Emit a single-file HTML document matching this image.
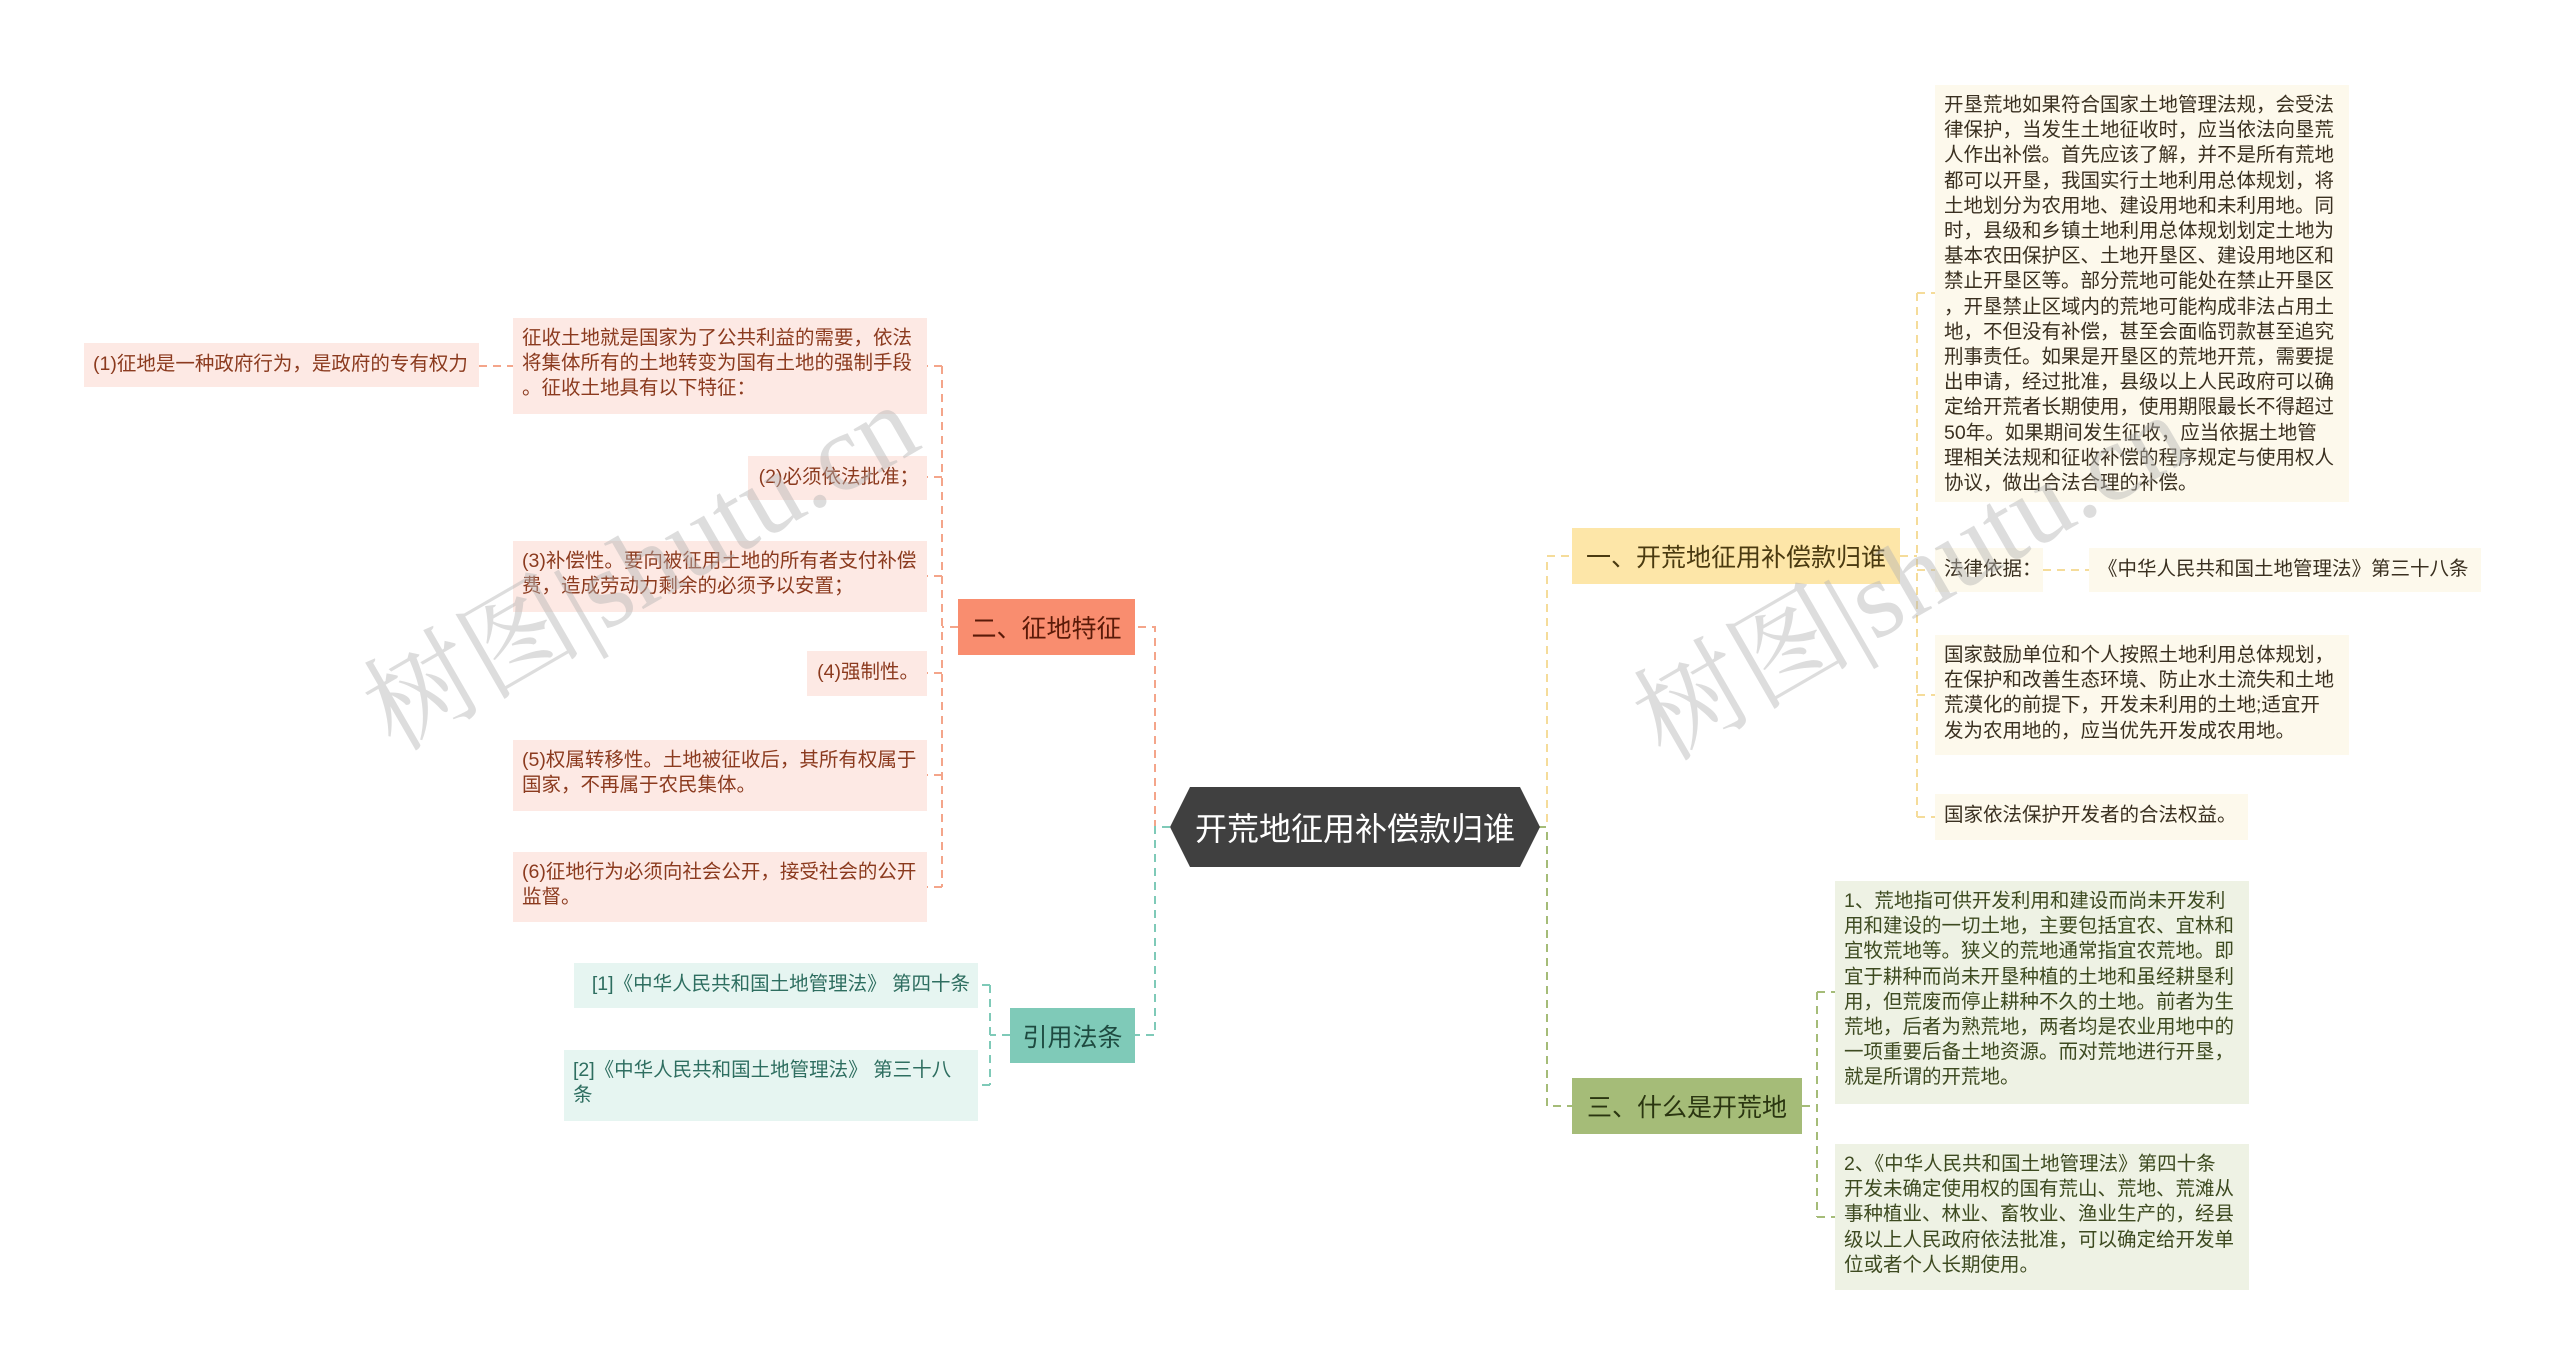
<!DOCTYPE html>
<html><head><meta charset="utf-8"><style>
*{margin:0;padding:0;box-sizing:border-box}
body{width:2560px;height:1368px;background:#fff;position:relative;overflow:hidden;font-family:"Liberation Sans","Noto Sans CJK SC",sans-serif}
.n{position:absolute;font-size:19.5px;line-height:25.2px;padding:8px 8px 8px 9px;line-break:anywhere}
.nw{white-space:nowrap}
.o{background:#fde9e4;color:#8b3a1e}
.t{background:#e6f5f1;color:#2e6e60}
.y{background:#fdf9ec;color:#3a3020}
.g{background:#eef2e4;color:#3d4a20}
.m{position:absolute;font-size:25px;display:flex;align-items:center;justify-content:center;white-space:nowrap}
svg{position:absolute;left:0;top:0}
.wm{position:absolute;font-size:110px;color:rgba(180,180,180,0.45);transform:rotate(-30deg);font-family:"Liberation Serif","Noto Serif CJK SC",serif;white-space:nowrap}
#r{position:absolute;left:-8px;top:0;width:2560px;height:1368px}
</style></head><body>
<svg width="2560" height="1368" fill="none" stroke-width="2" stroke-dasharray="8,6">
<g stroke="#f4a58a">
<path d="M1170 827 H1155 V627 H1135"/>
<path d="M958 627 H942 M942 366 V887 M942 366 H927 M942 477 H927 M942 576 H927 M942 673 H927 M942 775 H927 M942 887 H927"/>
<path d="M515 366 H479"/>
</g>
<g stroke="#7fcab8">
<path d="M1170 827 H1155 V1035 H1135"/>
<path d="M1010 1035 H990 M990 985 V1085 M990 985 H978 M990 1085 H978"/>
</g>
<g stroke="#f5dc9a">
<path d="M1538 827 H1547 V556 H1572"/>
<path d="M1900 556 H1917 M1917 293 V817 M1917 293 H1935 M1917 570 H1935 M1917 695 H1935 M1917 817 H1935 M2043 570 H2089"/>
</g>
<g stroke="#a5bc78">
<path d="M1538 827 H1547 V1106 H1572"/>
<path d="M1802 1106 H1817 M1817 992 V1217 M1817 992 H1835 M1817 1217 H1835"/>
</g>
</svg>
<svg width="2560" height="1368"><polygon points="1190,787 1520,787 1540,827 1520,867 1190,867 1170,827" fill="#404040"/></svg>
<div class="m" style="left:1170px;top:787px;width:370px;height:80px;color:#fff;font-size:32px">开荒地征用补偿款归谁</div>

<div class="m" style="left:958px;top:599px;width:177px;height:56px;background:#f98d6f;color:#5a1a08">二、征地特征</div>
<div class="m" style="left:1010px;top:1008px;width:125px;height:55px;background:#7fcab8;color:#1e4a40">引用法条</div>

<div class="n o" style="left:513px;top:318px;width:414px;height:96px">征收土地就是国家为了公共利益的需要，依法将集体所有的土地转变为国有土地的强制手段。征收土地具有以下特征：</div>
<div class="n o nw" style="left:84px;top:343px;width:395px;height:44px;padding-top:9px">(1)征地是一种政府行为，是政府的专有权力</div>
<div class="n o nw" style="left:748px;top:456px;width:179px;height:44px;text-align:right;padding-top:9px">(2)必须依法批准；</div>
<div class="n o" style="left:513px;top:541px;width:414px;height:71px">(3)补偿性。要向被征用土地的所有者支付补偿费，造成劳动力剩余的必须予以安置；</div>
<div class="n o nw" style="left:807px;top:651px;width:120px;height:45px;text-align:right;padding-top:9px">(4)强制性。</div>
<div class="n o" style="left:513px;top:740px;width:414px;height:71px">(5)权属转移性。土地被征收后，其所有权属于国家，不再属于农民集体。</div>
<div class="n o" style="left:513px;top:852px;width:414px;height:70px">(6)征地行为必须向社会公开，接受社会的公开监督。</div>
<div class="n t nw" style="left:574px;top:963px;width:404px;height:45px;text-align:right;padding-top:9px">[1]《中华人民共和国土地管理法》 第四十条</div>
<div class="n t" style="left:564px;top:1050px;width:414px;height:71px">[2]《中华人民共和国土地管理法》 第三十八条</div>

<div id="r">
<div class="m" style="left:1580px;top:528px;width:328px;height:56px;background:#fde6a8;color:#4a3a10">一、开荒地征用补偿款归谁</div>
<div class="m" style="left:1580px;top:1078px;width:230px;height:56px;background:#a5bc78;color:#2a3510">三、什么是开荒地</div>
<div class="n y" style="left:1943px;top:85px;width:414px;height:417px">开垦荒地如果符合国家土地管理法规，会受法律保护，当发生土地征收时，应当依法向垦荒人作出补偿。首先应该了解，并不是所有荒地都可以开垦，我国实行土地利用总体规划，将土地划分为农用地、建设用地和未利用地。同时，县级和乡镇土地利用总体规划划定土地为基本农田保护区、土地开垦区、建设用地区和禁止开垦区等。部分荒地可能处在禁止开垦区，开垦禁止区域内的荒地可能构成非法占用土地，不但没有补偿，甚至会面临罚款甚至追究刑事责任。如果是开垦区的荒地开荒，需要提出申请，经过批准，县级以上人民政府可以确定给开荒者长期使用，使用期限最长不得超过50年。如果期间发生征收，应当依据土地管<br>理相关法规和征收补偿的程序规定与使用权人协议，做出合法合理的补偿。</div>
<div class="n y nw" style="left:1943px;top:548px;width:108px;height:44px;padding-top:9px">法律依据：</div>
<div class="n y nw" style="left:2097px;top:548px;width:392px;height:44px;padding-top:9px">《中华人民共和国土地管理法》第三十八条</div>
<div class="n y" style="left:1943px;top:635px;width:414px;height:120px">国家鼓励单位和个人按照土地利用总体规划，在保护和改善生态环境、防止水土流失和土地荒漠化的前提下，开发未利用的土地;适宜开<br>发为农用地的，应当优先开发成农用地。</div>
<div class="n y nw" style="left:1943px;top:794px;width:313px;height:46px;padding-top:9px">国家依法保护开发者的合法权益。</div>
<div class="n g" style="left:1843px;top:881px;width:414px;height:223px">1、荒地指可供开发利用和建设而尚未开发利用和建设的一切土地，主要包括宜农、宜林和宜牧荒地等。狭义的荒地通常指宜农荒地。即宜于耕种而尚未开垦种植的土地和虽经耕垦利用，但荒废而停止耕种不久的土地。前者为生荒地，后者为熟荒地，两者均是农业用地中的一项重要后备土地资源。而对荒地进行开垦，就是所谓的开荒地。</div>
<div class="n g" style="left:1843px;top:1144px;width:414px;height:146px">2、《中华人民共和国土地管理法》第四十条<br>开发未确定使用权的国有荒山、荒地、荒滩从事种植业、林业、畜牧业、渔业生产的，经县级以上人民政府依法批准，可以确定给开发单位或者个人长期使用。</div>
</div>

<div class="wm" style="left:330px;top:480px">树图|shutu.cn</div>
<div class="wm" style="left:1600px;top:490px">树图|shutu.cn</div>
</body></html>
